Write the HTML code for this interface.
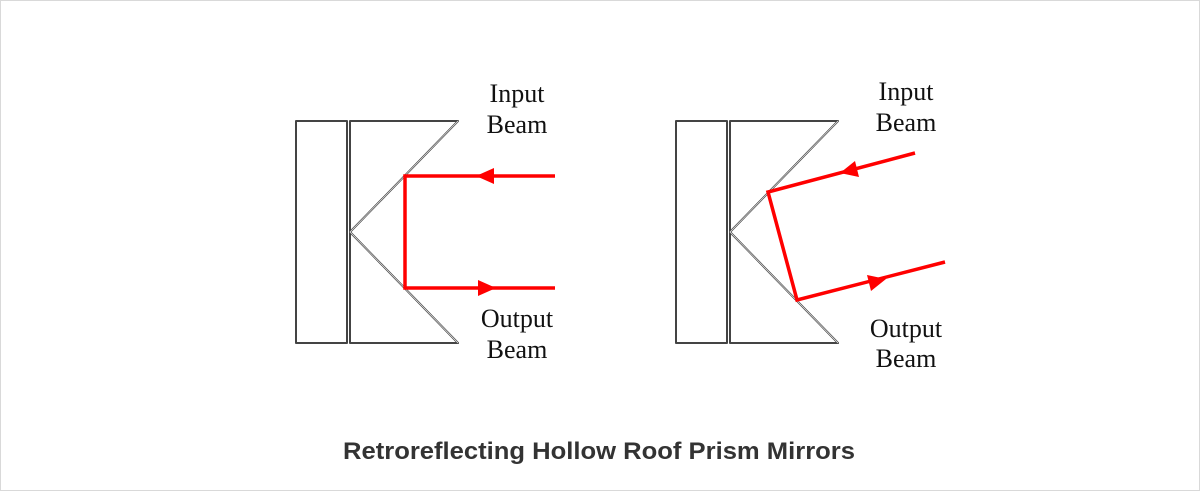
<!DOCTYPE html>
<html><head><meta charset="utf-8"><style>
html,body{margin:0;padding:0;background:#fff;}
svg{display:block;}
</style></head><body>
<svg width="1200" height="491" viewBox="0 0 1200 491" xmlns="http://www.w3.org/2000/svg">
<rect x="0.5" y="0.5" width="1199" height="490" fill="#fff" stroke="#d9d9d9"/>
<g fill="none" stroke="#444" stroke-width="2" stroke-linejoin="round">
  <rect x="296" y="121" width="51" height="222"/>
  <path d="M350 121 H458 L350 232 L458 343 H350 Z"/>
  <rect x="676" y="121" width="51" height="222"/>
  <path d="M730 121 H838 L730 232 L838 343 H730 Z"/>
</g>
<g fill="none" stroke="#fff" stroke-width="0.6">
  <path d="M458 121 L350 232 L458 343"/>
  <path d="M838 121 L730 232 L838 343"/>
</g>
<g fill="none" stroke="#f00" stroke-width="3.5" stroke-linejoin="miter">
  <path d="M555 176 H405 V288 H555"/>
  <path d="M915 153 L768 192 L797 300 L945 262"/>
</g>
<g fill="#f00">
  <polygon points="476,176 494,168 494,184"/>
  <polygon points="496,288 478,280 478,296"/>
  <polygon points="840,173 855,161 859,177"/>
  <polygon points="886,279 871,291 867,275"/>
</g>
<g font-family="Liberation Serif, serif" font-size="26" fill="#111" text-anchor="middle">
  <text x="517" y="102">Input</text>
  <text x="517" y="133">Beam</text>
  <text x="517" y="327">Output</text>
  <text x="517" y="358">Beam</text>
  <text x="906" y="100">Input</text>
  <text x="906" y="131">Beam</text>
  <text x="906" y="337">Output</text>
  <text x="906" y="367">Beam</text>
</g>
<text x="343" y="459" font-family="Liberation Sans, sans-serif" font-weight="bold" font-size="24" fill="#333" textLength="512" lengthAdjust="spacingAndGlyphs">Retroreflecting Hollow Roof Prism Mirrors</text>
</svg>
</body></html>
